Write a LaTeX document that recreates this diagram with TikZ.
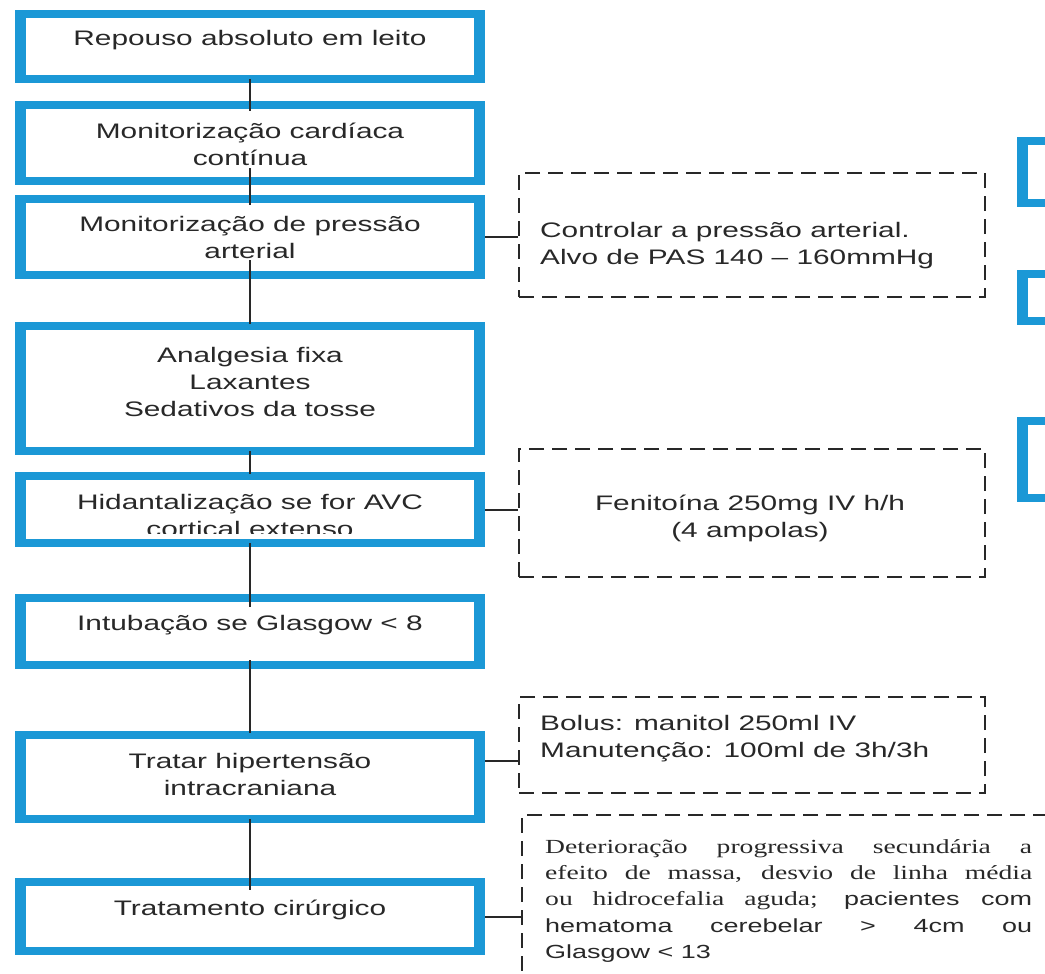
\documentclass[tikz,border=0pt]{standalone}
\usepackage{fontspec}
\setmainfont{Liberation Sans}[FakeStretch=1.42]
\newfontfamily\notaserif{Liberation Serif}[FakeStretch=1.38]
\usetikzlibrary{calc}
\definecolor{boxblue}{RGB}{27,152,214}
\definecolor{ink}{RGB}{40,40,40}

\begin{document}
\begin{tikzpicture}[x=1pt,y=-1pt,
  bluebox/.style={fill=boxblue, inner sep=0pt, outer sep=0pt,
    path picture={\fill[white]
      ($(path picture bounding box.south west)+(11pt,8pt)$) rectangle
      ($(path picture bounding box.north east)-(11pt,8pt)$);}},
  stepbox/.style={bluebox, minimum width=470pt},
  txt/.style={text=ink, font=\fontsize{21}{27}\selectfont, align=center, inner sep=0pt},
  notebox/.style={draw=ink, line width=2.4pt, dash pattern=on 15pt off 8pt,
    minimum width=466pt, inner sep=0pt},
  conn/.style={draw=ink, line width=2pt}
]
\useasboundingbox (0,0) rectangle (1045,974);
\clip (0,0) rectangle (1045,974);

% main column of steps
\node[stepbox, minimum height=73pt] (b1) at (250,46.5) {};
\node[stepbox, minimum height=84pt] (b2) at (250,143) {};
\node[stepbox, minimum height=84pt] (b3) at (250,237) {};
\node[stepbox, minimum height=133pt] (b4) at (250,388.5) {};
\node[stepbox, minimum height=75pt] (b5) at (250,509.5) {};
\node[stepbox, minimum height=75pt] (b6) at (250,631.5) {};
\node[stepbox, minimum height=92pt] (b7) at (250,777) {};
\node[stepbox, minimum height=77pt] (b8) at (250,916.5) {};

% boxes of the neighbouring column, cut by the page edge
\node[bluebox, minimum width=80pt, minimum height=70pt] (r1) at (1057,172) {};
\node[bluebox, minimum width=80pt, minimum height=55pt] (r2) at (1057,297.5) {};
\node[bluebox, minimum width=80pt, minimum height=85pt] (r3) at (1057,459.5) {};

% step texts
\node[txt] (t1) at (250,40) {Repouso absoluto em leito};
\node[txt] (t2) at (250,144.5) {Monitorização cardíaca\\contínua};
\node[txt] (t3) at (250,237) {Monitorização de pressão\\arterial};
\node[txt] (t4) at (250,382) {Analgesia fixa\\Laxantes\\Sedativos da tosse};
% the second line of this box is cut by its text frame
\begin{scope}
  \clip ($(b5.north west)+(11pt,-8pt)$) rectangle (479,533);
  \node[txt] (t5) at (250,515.5) {Hidantalização se for AVC\\cortical extenso};
\end{scope}
\node[txt] (t6) at (250,625) {Intubação se Glasgow < 8};
\node[txt] (t7) at (250,774) {Tratar hipertensão\\intracraniana};
\node[txt] (t8) at (250,910) {Tratamento cirúrgico};

% vertical links
\draw[conn] ([yshift=4pt]b1.south) -- ([yshift=-10pt]b2.north);
\draw[conn] ([yshift=17pt]b2.south) -- ([yshift=-10pt]b3.north);
\draw[conn] ([yshift=19pt]b3.south) -- ([yshift=-2pt]b4.north);
\draw[conn] ([yshift=4pt]b4.south) -- ([yshift=-2pt]b5.north);
\draw[conn] ([yshift=4pt]b5.south) -- ([yshift=-13pt]b6.north);
\draw[conn] ([yshift=9pt]b6.south) -- ([yshift=-2pt]b7.north);
\draw[conn] ([yshift=4pt]b7.south) -- ([yshift=-12pt]b8.north);

% dashed notes
\node[notebox, minimum height=124pt] (nA) at (752,235) {};
\node[notebox, minimum height=128pt] (nB) at (752,513) {};
\node[notebox, minimum height=96pt] (nC) at (752,745) {};
\node[notebox, minimum width=580pt, minimum height=240pt] (nD) at (812,935) {};

\node[txt, anchor=west, align=left] (tA) at (540,246)
  {Controlar a pressão arterial.\\Alvo de PAS 140 – 160mmHg};
\node[txt] (tB) at (750,518) {Fenitoína 250mg IV h/h\\(4 ampolas)};
\node[txt, anchor=west, align=left] (tC) at (540,739)
  {Bolus: manitol 250ml IV\\Manutenção: 100ml de 3h/3h};
\node[anchor=north west, text width=487pt, align=justify, inner sep=0pt, text=ink,
  font=\fontsize{20}{26.3}\selectfont] (tD) at (545,839)
  {\notaserif Deterioração progressiva secundária a\linebreak
   efeito de massa, desvio de linha média\linebreak
   ou hidrocefalia aguda; {\rmfamily\fontsize{19}{26.3}\selectfont pacientes com\linebreak
   hematoma cerebelar > 4cm ou\linebreak
   Glasgow < 13}};

% side links
\draw[conn] (b3.east) -- (b3.east -| nA.west);
\draw[conn] (b5.east) -- (b5.east -| nB.west);
\coordinate (c7) at ($(nC.west)+(0,16)$);
\draw[conn] (b7.east |- c7) -- (c7);
\draw[conn] (b8.east) -- (b8.east -| nD.west);
\end{tikzpicture}
\end{document}
